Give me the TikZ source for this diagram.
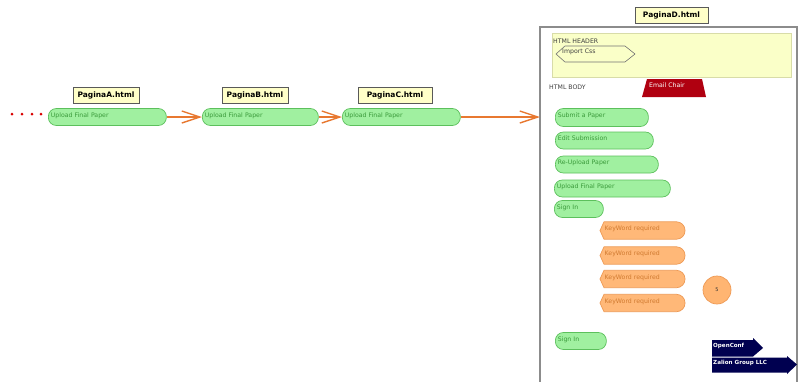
\documentclass[tikz,border=0pt]{standalone}
\usepackage{fontspec}
\setmainfont{DejaVu Sans}
\usetikzlibrary{arrows.meta}
\definecolor{gfill}{HTML}{A0F0A0}
\definecolor{gborder}{HTML}{5CC05C}
\definecolor{gtext}{HTML}{3A9A3A}
\definecolor{ofill}{HTML}{FFB878}
\definecolor{oborder}{HTML}{EE9A55}
\definecolor{otext}{HTML}{D07A30}
\definecolor{lblfill}{HTML}{FFFFC8}
\definecolor{hdrfill}{HTML}{FAFFC8}
\definecolor{hdrborder}{HTML}{D8DCA8}
\definecolor{framec}{HTML}{8C8C8C}
\definecolor{arrc}{HTML}{E87830}
\definecolor{redc}{HTML}{B00010}
\definecolor{navyc}{HTML}{000050}
\newcommand\myTiny{\fontsize{6.2}{7}\selectfont}
\newcommand\myLbl{\fontsize{7.5}{8.5}\selectfont\bfseries}
\newcommand\myNavy{\fontsize{5.6}{6.5}\selectfont\bfseries}
\tikzset{
  gbox/.style={draw=gborder, fill=gfill, line width=0.7pt, rounded corners=8pt,
    minimum height=17pt, text width=#1, inner xsep=2.5pt, inner ysep=0pt,
    text height=4.5pt, text depth=3.8pt,
    anchor=west, font=\myTiny, text=gtext, align=left},
  lbl/.style={draw=black!65, fill=lblfill, line width=0.6pt, minimum width=#1,
    minimum height=16pt, inner sep=0pt, font=\myLbl},
  arr/.style={draw=arrc, line width=1.4pt, -{Straight Barb[length=18pt,width=12pt,line width=1.4pt]}},
  kwshape/.style={draw=oborder, fill=ofill, line width=0.7pt},
  kwtext/.style={anchor=west, font=\myTiny, text=otext, inner sep=0pt},
  plain/.style={anchor=west, font=\myTiny, text=black!75, inner sep=0pt},
  navytext/.style={anchor=west, font=\myNavy, text=white, inner sep=0pt},
}
\begin{document}
\begin{tikzpicture}[x=1pt,y=-1pt]
\useasboundingbox[fill=white] (0,0) rectangle (800,381);

% red dots
\foreach \xx in {12,22,32,41} \fill[red!85!black] (\xx,114) circle (1.5pt);

% page labels
\node[lbl=66pt] (la) at (106,95) {PaginaA.html};
\node[lbl=66pt] (lb) at (255,95) {PaginaB.html};
\node[lbl=74pt] (lc) at (395,95) {PaginaC.html};
\node[lbl=73pt] (ld) at (671.5,15) {PaginaD.html};

% upload boxes
\node[gbox=113pt] (a) at (48,117) {Upload Final Paper};
\node[gbox=111pt] (b) at (202,117) {Upload Final Paper};
\node[gbox=113pt] (c) at (342,117) {Upload Final Paper};

% frame of PaginaD
\draw[framec, line width=1.2pt] (540,385) -- (540,27) -- (797,27) -- (797,385);
\coordinate (din) at (540,117);

\draw[arr] (a.east) -- (b.west);
\draw[arr] (b.east) -- (c.west);
\draw[arr] (c.east) -- (din);

% header
\draw[draw=hdrborder, fill=hdrfill, line width=0.8pt] (552,33) rectangle (791,77);
\node[plain] (hh) at (553,41) {HTML HEADER};
\draw[draw=black!55, fill=hdrfill, line width=0.6pt]
  (556,54) -- (565,46) -- (625,46) -- (635,54) -- (625,62) -- (565,62) -- cycle;
\node[plain] (css) at (562,52) {Import Css};

\node[plain] (hb) at (549,87) {HTML BODY};
\fill[redc] (647,79) -- (702,79) -- (706,97) -- (642,97) -- cycle;
\node[anchor=west, font=\myTiny, text=white, inner sep=0pt] (email) at (649,85) {Email Chair};

% body buttons
\node[gbox=88pt, minimum height=18pt] (s1) at (555,117.5) {Submit a Paper};
\node[gbox=93pt] (s2) at (555,140.5) {Edit Submission};
\node[gbox=98pt] (s3) at (555,164.5) {Re-Upload Paper};
\node[gbox=111pt] (s4) at (554,188.5) {Upload Final Paper};
\node[gbox=44pt] (s5) at (554,209) {Sign In};
\node[gbox=46pt] (s6) at (555,341) {Sign In};

% keyword boxes
\foreach \yy/\nn in {230.5/k1, 255.5/k2, 279/k3, 303/k4}{
  \draw[kwshape] (604,\yy-8.7) [rounded corners=8.5pt] -- (685,\yy-8.7) -- (685,\yy+8.7) [sharp corners] -- (604,\yy+8.7) -- (600,\yy) -- cycle;
  \node[kwtext] (\nn) at (604.5,\yy-1.5) {KeyWord required};
}

\node[circle, draw=oborder, fill=ofill!95!orange, line width=0.7pt, minimum size=28pt,
  inner sep=0pt, font=\fontsize{5}{6}\selectfont, text=black!80] (five) at (717,290) {5};

% navy arrows
\fill[navyc] (712,340) -- (753,340) -- (753,338) -- (763,348) -- (753,356.5) -- (712,356.5) -- cycle;
\node[navytext] (oc) at (713,346) {OpenConf};
\fill[navyc] (712,357.5) -- (787,357.5) -- (787,356) -- (797,364.5) -- (787,374) -- (787,372.5) -- (712,372.5) -- cycle;
\node[navytext] (zg) at (713,363) {Zalion Group LLC};
\end{tikzpicture}
\end{document}
